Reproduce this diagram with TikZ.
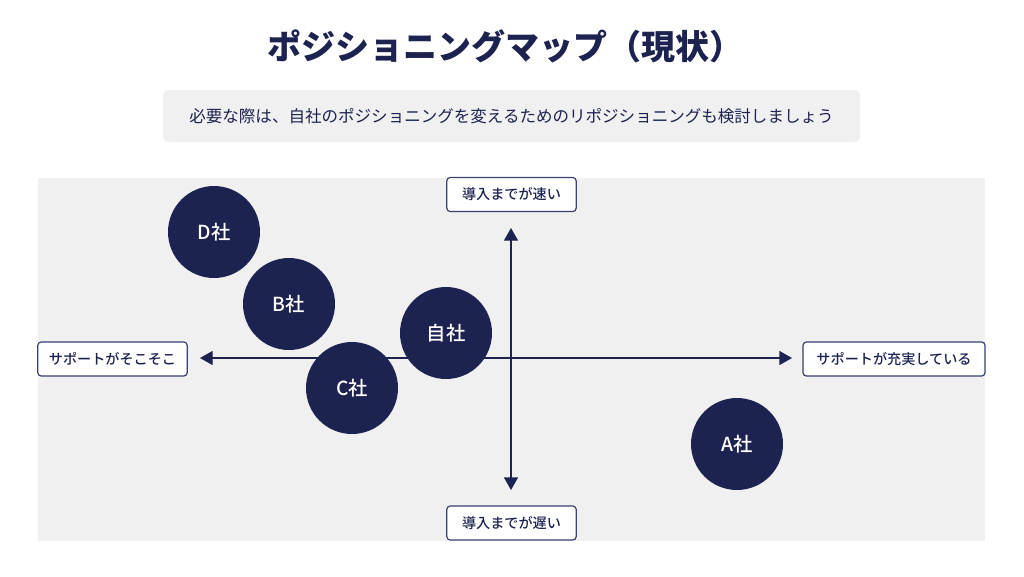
\documentclass[tikz,border=0pt]{standalone}
\usepackage{fontspec}
\setmainfont{Noto Sans CJK JP}
\newfontfamily\cjkmed{Noto Sans CJK JP}[UprightFont=* Medium]
\usetikzlibrary{arrows.meta}
\definecolor{navy}{HTML}{1D2350}
\definecolor{panel}{HTML}{F0F0F0}
\definecolor{boxborder}{HTML}{3A4070}
\tikzset{
  lbl/.style={draw=boxborder, line width=0.9pt, fill=white, rounded corners=2.5pt,
    text=navy, font=\cjkmed\fontsize{10.6}{12}\selectfont, inner sep=0pt, minimum height=25.5pt},
  co/.style={circle, fill=navy, minimum size=69pt, inner sep=0pt, text=white,
    font=\cjkmed\fontsize{14.5}{16}\selectfont},
  ax/.style={draw=navy, line width=1pt, -{Triangle[length=9.5pt, width=10.5pt]}}
}
\begin{document}
\begin{tikzpicture}[x=0.75pt, y=-0.75pt]
\useasboundingbox (0,0) rectangle (1024,576);
\fill[white] (0,0) rectangle (1024,576);
% title
\node[text=navy, font=\fontsize{25.5}{30}\selectfont\bfseries] (title) at (505,46) {ポジショニングマップ（現状）};
% subtitle
\fill[panel, rounded corners=4.5pt] (163,90) rectangle (860,142);
\node[text=navy, font=\fontsize{12.4}{15}\selectfont] (sub) at (511.5,116) {必要な際は、自社のポジショニングを変えるためのリポジショニングも検討しましょう};
% panel
\fill[panel] (38,178) rectangle (985,541);
% axes
\coordinate (o) at (511,358);
\coordinate (lt) at (200,358);
\coordinate (rt) at (792,358);
\coordinate (tp) at (511,228);
\coordinate (bt) at (511,490);
\draw[ax] (o) -- (lt);
\draw[ax] (o) -- (rt);
\draw[ax] (o) -- (tp);
\draw[ax] (o) -- (bt);
% axis labels
\node[lbl, minimum width=97pt] (top) at (511.5,194.5) {導入までが速い};
\node[lbl, minimum width=97pt] (bottom) at (511.5,523) {導入までが遅い};
\node[lbl, minimum width=112pt] (left) at (112.5,359) {サポートがそこそこ};
\node[lbl, minimum width=136.5pt] (right) at (894,359) {サポートが充実している};
% companies
\node[co] (d) at (214,232) {D社};
\node[co] (b) at (289,304) {B社};
\node[co] (self) at (446,333) {自社};
\node[co] (c) at (352,388) {C社};
\node[co] (a) at (737,444) {A社};
\end{tikzpicture}
\end{document}
